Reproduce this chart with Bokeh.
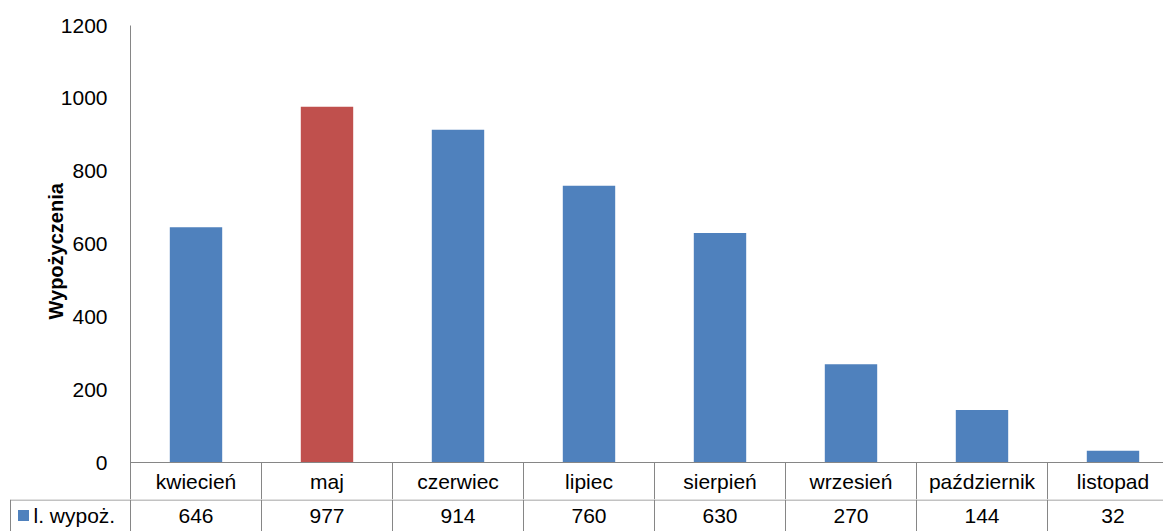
from bokeh.plotting import figure
from bokeh.layouts import column
from bokeh.models import Range1d, FixedTicker, ColumnDataSource, Title
from bokeh.core.properties import value
from bokeh.embed import file_html
from bokeh.resources import INLINE

# Monthly loan counts
months = ["kwiecień", "maj", "czerwiec", "lipiec", "sierpień", "wrzesień", "październik", "listopad"]
loans = [646, 977, 914, 760, 630, 270, 144, 32]
series_name = "l. wypoż."
y_ticks = [0, 200, 400, 600, 800, 1000, 1200]
y_title = "Wypożyczenia"
highlight = "maj"

BLUE = "#4F81BD"
RED = "#C0504D"
LINE = "#868686"
FONT = "Liberation Sans"

# page geometry (pixels)
W, H = 1163, 531
LEFT, TOP, PLOT_BOTTOM = 130, 25, 462
COL_PX = 131              # width of one month column
ROW_CAT = 37              # height of the month-name row of the table
ROW_VAL = H - PLOT_BOTTOM - ROW_CAT
KEY_CELL_LEFT = 10

x_end = (W - LEFT) / COL_PX
xs = [i + 0.5 for i in range(len(months))]
colors = [RED if m == highlight else BLUE for m in months]
src = ColumnDataSource(dict(x=xs, top=loans, color=colors, month=months,
                            label=[str(v) for v in loans]))

# vertical scale of the chart: value units per pixel
units_per_px = y_ticks[-1] / (PLOT_BOTTOM - TOP)
cat_row_bottom = -ROW_CAT * units_per_px

# ---- column chart with the month-name row of the table ----
top_h = PLOT_BOTTOM + ROW_CAT
p = figure(width=W, height=top_h,
           x_range=Range1d(0, x_end), y_range=Range1d(cat_row_bottom, y_ticks[-1]),
           output_backend="svg", toolbar_location=None, x_axis_location=None,
           min_border_left=LEFT, min_border_top=TOP,
           min_border_right=0, min_border_bottom=0)
p.frame_align = False
p.vbar(x="x", top="top", width=0.4, fill_color="color", line_color=None, source=src)
p.xgrid.visible = False
p.ygrid.visible = False
p.outline_line_color = None
p.background_fill_color = "white"
p.border_fill_color = "white"

ax = p.yaxis[0]
ax.ticker = FixedTicker(ticks=y_ticks)
ax.major_tick_line_color = None
ax.major_tick_out = 0
ax.major_tick_in = 0
ax.minor_tick_line_color = None
ax.axis_line_color = LINE
ax.axis_line_width = 1
ax.major_label_standoff = 23
ax.major_label_text_font = FONT
ax.major_label_text_font_size = "21px"
ax.major_label_text_color = "black"

# axis title on the left, lifted so it is centred on the value area
p.add_layout(Title(text=y_title, align="left", offset=180, standoff=-19,
                   text_font=FONT, text_font_size="20px", text_font_style="bold",
                   text_color="black"), "left")

n_cols = int(x_end) + 1
# top border of the table and column separators of the month row
p.segment(x0=[0], y0=[0], x1=[x_end], y1=[0], line_color=LINE, line_width=1)
p.segment(x0=list(range(1, n_cols)), y0=[cat_row_bottom] * (n_cols - 1),
          x1=list(range(1, n_cols)), y1=[0] * (n_cols - 1),
          line_color=LINE, line_width=1)
p.text(x="x", y=cat_row_bottom / 2, text="month", source=src,
       text_font=value(FONT), text_font_size="21px", text_color="black",
       text_align="center", text_baseline="middle")

# ---- value row of the table ----
def px_to_x(px):
    return (px - LEFT) / COL_PX

t = figure(width=W, height=ROW_VAL,
           x_range=Range1d(px_to_x(0), x_end), y_range=Range1d(0, ROW_VAL),
           output_backend="svg", toolbar_location=None,
           x_axis_location=None, y_axis_location=None,
           min_border_left=0, min_border_right=0, min_border_top=0, min_border_bottom=0)
t.frame_align = False
t.grid.visible = False
t.outline_line_color = None
t.background_fill_color = "white"
t.border_fill_color = "white"

key_left = px_to_x(KEY_CELL_LEFT)
seg_x0 = [key_left, key_left] + list(range(n_cols))
seg_x1 = [x_end, key_left] + list(range(n_cols))
seg_y0 = [ROW_VAL - 0.5, 0] + [0] * n_cols
seg_y1 = [ROW_VAL - 0.5, ROW_VAL] + [ROW_VAL] * n_cols
t.segment(x0=seg_x0, y0=seg_y0, x1=seg_x1, y1=seg_y1, line_color=LINE, line_width=1)

t.text(x="x", y=ROW_VAL / 2, text="label", source=src,
       text_font=value(FONT), text_font_size="21px", text_color="black",
       text_align="center", text_baseline="middle")

# series key
t.scatter(x=[px_to_x(23)], y=[ROW_VAL / 2], marker="square", size=11,
          fill_color=BLUE, line_color=None)
t.text(x=[px_to_x(33)], y=[ROW_VAL / 2], text=[series_name],
       text_font=value(FONT), text_font_size="21px", text_color="black",
       text_align="left", text_baseline="middle")

layout = column(p, t, spacing=0)
open("out.html", "w").write(file_html(layout, INLINE))
